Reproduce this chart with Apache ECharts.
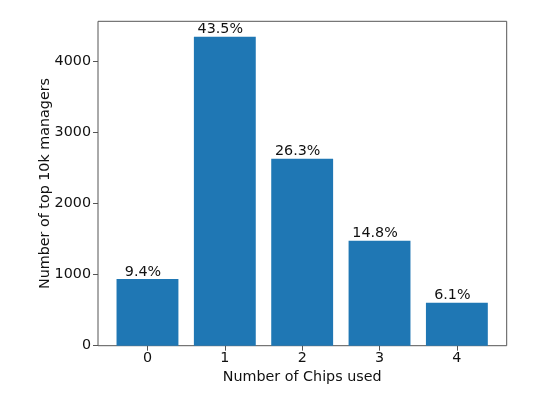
<!DOCTYPE html>
<html><head><meta charset="utf-8">
<script src="https://cdn.jsdelivr.net/npm/echarts@6/dist/echarts.min.js"></script>
<style>html,body{margin:0;padding:0;background:#fff}#c{width:544px;height:396px}</style>
</head><body><div id="c"></div>
<script>
var categories = ['0', '1', '2', '3', '4'];
var managers = [937, 4348, 2631, 1478, 606];
var pctLabels = ['9.4%', '43.5%', '26.3%', '14.8%', '6.1%'];
var yTicks = [0, 1000, 2000, 3000, 4000];
var yMax = 4565;

var font = 'DejaVu Sans';
var fs = 14.3;
var chart = echarts.init(document.getElementById('c'), null, {renderer: 'canvas'});
chart.setOption({
  animation: false,
  backgroundColor: '#fff',
  textStyle: {fontFamily: font},
  grid: [
    {left: 108.8, width: 386.75, top: 21.3, bottom: 50.3, containLabel: false},
    {left: 98, right: 37.3, top: 21.3, bottom: 50.3, show: true, borderColor: '#555', borderWidth: 1, backgroundColor: 'transparent', containLabel: false}
  ],
  xAxis: [
    {type: 'category', gridIndex: 0, data: categories,
     axisLine: {show: false},
     axisTick: {show: true, alignWithLabel: true, length: 5, lineStyle: {color: '#555'}},
     axisLabel: {color: '#111', fontSize: fs, fontFamily: font, margin: 6},
     name: 'Number of Chips used', nameLocation: 'middle', nameGap: 25, nameMoveOverlap: false,
     nameTextStyle: {color: '#111', fontSize: fs, fontFamily: font}},
    {type: 'value', gridIndex: 1, show: false, min: 0, max: 1}
  ],
  yAxis: [
    {type: 'value', gridIndex: 0, min: 0, max: yMax, show: false},
    {type: 'value', gridIndex: 1, min: 0, max: yMax,
     axisLine: {show: false},
     splitLine: {show: false},
     axisTick: {show: true, length: 5, customValues: yTicks, lineStyle: {color: '#555'}},
     axisLabel: {color: '#111', fontSize: fs, fontFamily: font, margin: 7, customValues: yTicks,
       formatter: function (v) { return String(v); }},
     name: 'Number of top 10k managers', nameLocation: 'middle', nameGap: 46, nameMoveOverlap: false,
     nameTextStyle: {color: '#111', fontSize: fs, fontFamily: font}}
  ],
  series: [{
    type: 'bar', xAxisIndex: 0, yAxisIndex: 0,
    data: managers, barWidth: '80%',
    itemStyle: {color: '#1f77b4'},
    label: {show: true, position: 'top', distance: 0, offset: [-4.5, 0],
      color: '#111', fontSize: fs, fontFamily: font,
      formatter: function (p) { return pctLabels[p.dataIndex]; }}
  }]
});
</script></body></html>
